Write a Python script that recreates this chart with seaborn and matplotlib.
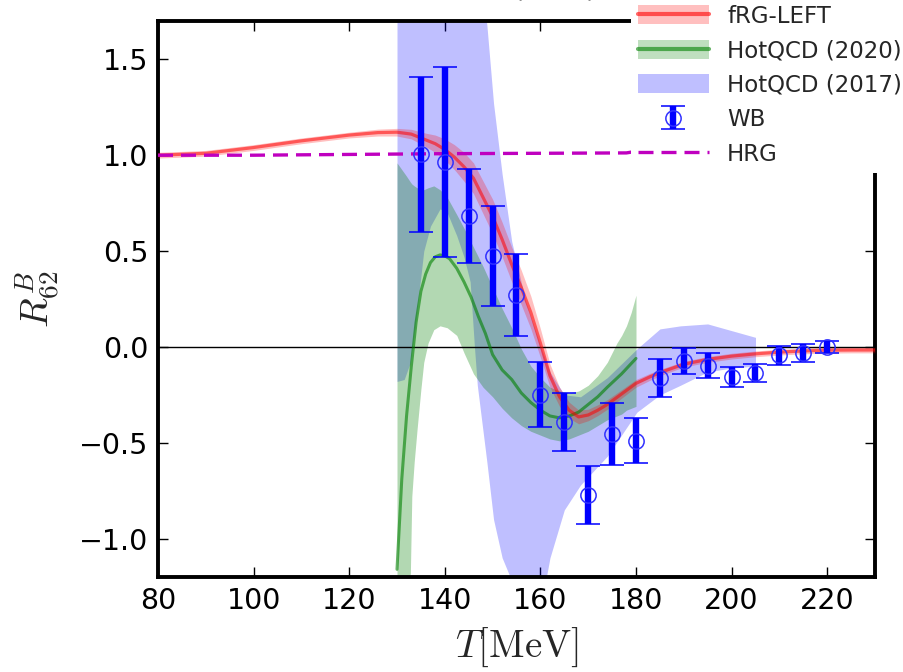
import numpy as np
import matplotlib
matplotlib.use("Agg")
import matplotlib.pyplot as plt
import seaborn as sns
from matplotlib.patches import Patch
from matplotlib.lines import Line2D

# ---------------- data ----------------
# fRG-LEFT curve and half-width of its band
frg_T = [80, 90, 100, 110, 120, 126, 130, 133, 136, 138, 140, 142, 144, 146, 148, 150,
         152, 154, 156, 158, 160, 162, 164, 166, 168, 170, 172, 174, 177, 180, 183, 186,
         190, 195, 200, 205, 210, 215, 220, 225, 230]
frg_R = [1.0, 1.01, 1.04, 1.075, 1.105, 1.118, 1.12, 1.11, 1.08, 1.06, 1.03, 0.99, 0.94, 0.88, 0.78, 0.68,
         0.56, 0.43, 0.31, 0.18, 0.02, -0.15, -0.26, -0.33, -0.365, -0.355, -0.33, -0.30, -0.245, -0.19, -0.155, -0.125,
         -0.09, -0.065, -0.048, -0.036, -0.027, -0.021, -0.017, -0.016, -0.016]
frg_err = [0.015, 0.015, 0.015, 0.015, 0.015, 0.018, 0.02, 0.025, 0.035, 0.045, 0.055, 0.065, 0.075, 0.08, 0.085, 0.09,
           0.09, 0.09, 0.09, 0.085, 0.075, 0.06, 0.05, 0.042, 0.036, 0.03, 0.028, 0.025, 0.022, 0.02, 0.018, 0.016,
           0.015, 0.015, 0.015, 0.015, 0.015, 0.015, 0.015, 0.015, 0.015]

# HotQCD (2020) central line
hq20_T = [130, 131, 132, 133, 134, 135, 136, 137, 138, 139, 140, 141, 142.5, 144, 145.5, 147, 148.5,
          150, 152, 154, 156, 158, 160, 162, 164, 166, 168, 170, 172, 174, 177, 180]
hq20_R = [-1.16, -0.69, -0.36, -0.10, 0.13, 0.29, 0.38, 0.44, 0.47, 0.48, 0.475, 0.46, 0.41, 0.34, 0.26, 0.16, 0.07,
          -0.04, -0.12, -0.17, -0.24, -0.29, -0.33, -0.36, -0.37, -0.36, -0.34, -0.30, -0.26, -0.21, -0.14, -0.06]
# HotQCD (2020) band
hq20b_T = [130, 132, 132.8, 133.1, 133.6, 134.2, 135, 135.6, 136.5, 137.7, 139, 140.5, 142.5, 144, 146, 148,
           150, 152, 154, 156, 158, 160, 162, 164, 166, 168, 170, 172, 174, 175, 176, 177, 178, 179, 180]
hq20b_lo = [-1.35, -1.35, -1.18, -0.78, -0.60, -0.43, -0.22, -0.08, 0.02, 0.09, 0.11, 0.10, 0.06, -0.03, -0.14, -0.21,
            -0.26, -0.32, -0.37, -0.41, -0.44, -0.46, -0.48, -0.49, -0.48, -0.46, -0.44, -0.41, -0.38, -0.37, -0.36,
            -0.35, -0.33, -0.32, -0.31]
hq20b_hi = [0.96, 0.89, 0.86, 0.85, 0.84, 0.83, 0.82, 0.82, 0.83, 0.84, 0.82, 0.78, 0.69, 0.62, 0.52, 0.42,
            0.31, 0.20, 0.10, -0.01, -0.10, -0.16, -0.21, -0.23, -0.24, -0.23, -0.20, -0.15, -0.08, -0.03, 0.02,
            0.06, 0.11, 0.18, 0.27]

# HotQCD (2017) band
hq17_T = [130, 131.5, 132.8, 134, 135.6, 137, 139, 140.5, 142.5, 144, 145.3, 146.2, 146.8, 148.8, 150.2, 152,
          154, 157, 160.5, 162, 165, 168.4, 174, 180.2, 185, 189.3, 195, 200, 205]
hq17_lo = [-0.18, -0.17, -0.08, 0.15, 0.50, 0.63, 0.72, 0.70, 0.58, 0.47, 0.34, 0.0, -0.20, -0.60, -0.90, -1.10,
           -1.22, -1.30, -1.30, -1.10, -0.85, -0.72, -0.57, -0.34, -0.25, -0.20, -0.13, -0.11, -0.10]
hq17_hi = [2.2, 2.2, 2.2, 2.2, 2.2, 2.2, 2.2, 2.2, 2.2, 2.2, 2.2, 2.2, 2.1, 1.68, 1.27, 0.90,
           0.55, 0.23, -0.03, -0.13, -0.25, -0.26, -0.16, -0.01, 0.094, 0.11, 0.12, 0.085, 0.05]

# WB lattice points
wb_T = [135, 140, 145, 150, 155, 160, 165, 170, 175, 180, 185, 190, 195, 200, 205, 210, 215, 220]
wb_R = [1.005, 0.965, 0.685, 0.475, 0.272, -0.25, -0.392, -0.773, -0.455, -0.489, -0.163, -0.074,
        -0.097, -0.157, -0.136, -0.044, -0.032, 0.0]
wb_err = [0.405, 0.495, 0.245, 0.26, 0.213, 0.17, 0.153, 0.15, 0.162, 0.118, 0.10, 0.067,
          0.066, 0.05, 0.048, 0.048, 0.048, 0.03]

# HRG
hrg_T = [80, 100, 120, 140, 160, 178, 180]
hrg_R = [1.0, 1.0, 1.004, 1.008, 1.01, 1.012, 1.02]

# ---------------- style ----------------
sns.set_style("ticks")
plt.rcParams['font.family'] = ['DejaVu Sans']
plt.rcParams['mathtext.fontset'] = 'cm'

fig = plt.figure(figsize=(9.04, 6.72), dpi=100)
ax = fig.add_axes([158 / 904, 1 - 577 / 672, (875 - 158) / 904, (577 - 21) / 672])

# bands
ax.fill_between(hq17_T, hq17_lo, hq17_hi, color='b', alpha=0.25, lw=0, zorder=1)
ax.fill_between(hq20b_T, hq20b_lo, hq20b_hi, color='g', alpha=0.3, lw=0, zorder=2)
frg_R_a = np.array(frg_R)
frg_e_a = np.array(frg_err)
ax.fill_between(frg_T, frg_R_a - frg_e_a, frg_R_a + frg_e_a, color='r', alpha=0.25, lw=0, zorder=3)

# lines
ax.axhline(0.0, color='k', lw=1, zorder=3)
sns.lineplot(x=hq20_T, y=hq20_R, ax=ax, color='g', alpha=0.6, lw=2.2, sort=False,
             estimator=None, zorder=4)
sns.lineplot(x=frg_T, y=frg_R, ax=ax, color='r', alpha=0.55, lw=2.3, sort=False,
             estimator=None, zorder=4)
sns.lineplot(x=hrg_T, y=hrg_R, ax=ax, color='m', lw=2.4, sort=False,
             estimator=None, zorder=4)
ax.lines[-1].set_dashes((4.5, 2.4))

# WB errorbars
eb = ax.errorbar(wb_T, wb_R, yerr=wb_err, fmt='o', color='b', mfc='none', mec='#3030ff',
                 ms=11, mew=1.1, elinewidth=4.6, capsize=8.5, capthick=1.4, zorder=6)
for c in eb[1]:
    c.set_color('#2828ff')

ax.set_xlim(80, 230)
ax.set_ylim(-1.2, 1.7)
ax.set_xticks([80, 100, 120, 140, 160, 180, 200, 220])
ax.set_yticks([-1.0, -0.5, 0.0, 0.5, 1.0, 1.5])
ax.set_yticklabels(['\u22121.0', '\u22120.5', '0.0', '0.5', '1.0', '1.5'])
ax.tick_params(direction='in', length=7, width=1, top=True, right=True,
               labelsize=20.5, pad=7, colors='k')
for s in ax.spines.values():
    s.set_linewidth(2.8)
    s.set_color('k')

ax.set_xlabel(r'$T[\mathrm{MeV}]$', fontsize=28, va='center')
ax.xaxis.set_label_coords(0.5, -(647 - 577) / 556)
ax.set_ylabel(r'$R^B_{62}$', fontsize=28, va='center')
ax.yaxis.set_label_coords(-(158 - 38) / 717, 0.5)

# partially visible title text (cut by the top edge, as in the reference)
fig.text(555 / 904, 1 + 3 / 672, '(2019)', ha='center', va='baseline', fontsize=18)

# legend
h_frg = (Patch(facecolor='r', alpha=0.25, lw=0), Line2D([], [], color='r', alpha=0.6, lw=3))
h_hq20 = (Patch(facecolor='g', alpha=0.25, lw=0), Line2D([], [], color='g', alpha=0.6, lw=3))
h_hq17 = Patch(facecolor='b', alpha=0.25, lw=0)
h_hrg = Line2D([], [], color='m', lw=2.4, dashes=(4.5, 2.4))
leg = ax.legend([h_frg, h_hq20, h_hq17, eb, h_hrg],
                ['fRG-LEFT', 'HotQCD (2020)', 'HotQCD (2017)', 'WB', 'HRG'],
                loc='upper left', bbox_to_anchor=(631 / 904, 1 + 2 / 672),
                bbox_transform=fig.transFigure, fontsize=16.5, frameon=True,
                facecolor='white', edgecolor='none', framealpha=1, fancybox=False,
                borderpad=0.3, borderaxespad=0, handlelength=3.1, handletextpad=0.8,
                labelspacing=0.5, handleheight=0.9, numpoints=1)
leg.set_zorder(10)

fig.savefig('out.png', dpi=100)
